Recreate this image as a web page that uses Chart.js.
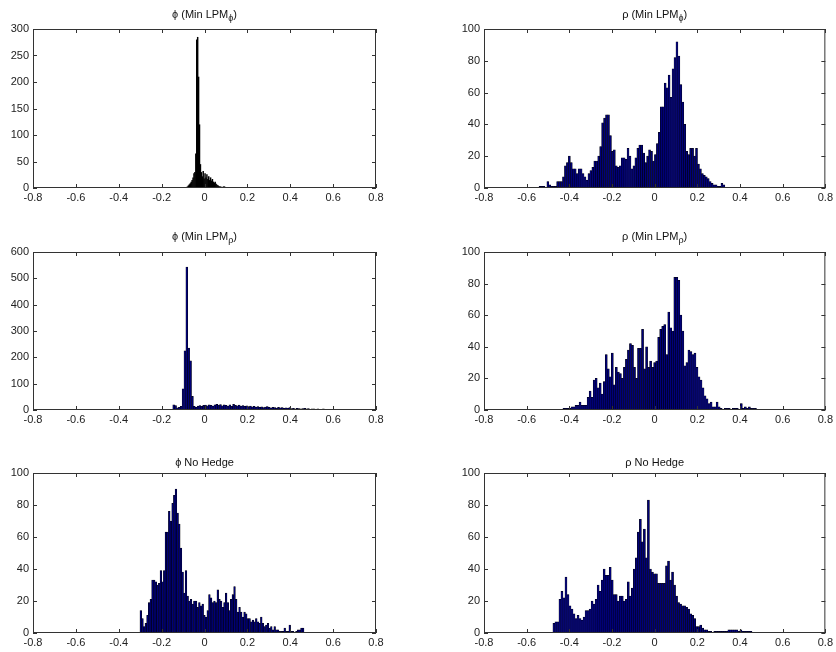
<!DOCTYPE html>
<html>
<head>
<meta charset="utf-8">
<script src="https://cdn.jsdelivr.net/npm/chart.js@4.4.1/dist/chart.umd.min.js"></script>
<style>
  html, body { margin: 0; padding: 0; background: #fff; overflow: hidden; }
  .panel { position: absolute; }
</style>
</head>
<body>
<div class="panel" style="left:0px;top:0px"><canvas id="c1" width="388" height="207"></canvas></div>
<div class="panel" style="left:451px;top:0px"><canvas id="c2" width="385" height="207"></canvas></div>
<div class="panel" style="left:0px;top:223px"><canvas id="c3" width="388" height="206"></canvas></div>
<div class="panel" style="left:451px;top:223px"><canvas id="c4" width="385" height="206"></canvas></div>
<div class="panel" style="left:0px;top:444px"><canvas id="c5" width="388" height="208"></canvas></div>
<div class="panel" style="left:451px;top:444px"><canvas id="c6" width="385" height="208"></canvas></div>
<script>
// Histogram counts, one array per panel.
// Each panel's bins split its range [first edge, last edge] evenly.
var phiLpmPhiRange = [-0.09, 0.121];
var phiLpmPhiCounts = [1, 2, 3, 5, 7, 9, 12, 15, 20, 28, 30, 65,
    280, 285, 210, 120, 45,
    30, 22, 32, 18, 28, 20, 26, 17, 22, 15, 20, 14, 17, 12, 10, 12, 8, 6, 5, 4,
    3, 3, 2, 2, 3, 3, 2, 1, 1, 1, 0, 1];

var rhoLpmPhiRange = [-0.542, 0.329];
var rhoLpmPhiCounts = [1, 1, 1, 0, 4, 2, 1, 1, 1, 4, 4, 4,
    7, 14, 16, 20, 16, 12, 12, 9, 12, 12, 9, 7, 5, 9, 11, 13, 17, 17, 20, 26,
    41, 44, 46, 46, 33, 23, 24, 14, 13, 14, 19, 19, 18, 25, 20, 12, 14, 19,
    25, 27, 27, 22, 16, 20, 24, 23, 17, 21, 28, 35, 51, 51, 66, 63, 71, 57,
    75, 82, 92, 83, 65, 54, 40, 23, 21, 25, 25, 20, 25, 15, 12, 9, 8, 7, 6,
    4, 3, 2, 2, 1, 1, 3, 2];

var phiLpmRhoRange = [-0.148, 0.725];
var phiLpmRhoCounts = [20, 17, 8, 10, 14, 80, 225, 543, 235, 187, 52, 14, 10,
    15, 17, 14, 18,
    19, 16, 20, 18, 15, 20, 22, 19, 21, 16, 20, 18,
    15, 20, 14, 22, 18, 16, 19, 15, 17, 14, 16,
    13, 15, 12, 14, 11, 13, 10, 12, 9, 11, 13, 10,
    8, 10, 9, 7, 10, 8, 9, 6, 8, 7, 9,
    5, 6, 4, 6, 5, 4, 5, 6, 4, 5, 3, 4,
    4, 3, 4, 2, 3, 4, 3, 2, 3, 2, 3,
    2, 1, 2, 0, 1, 2, 2, 0, 1, 2, 1, 0, 1, 2];

var rhoLpmRhoRange = [-0.43, 0.477];
var rhoLpmRhoCounts = [1, 1, 1, 1, 2, 2, 3, 3, 5, 3, 3, 3,
    8, 12, 8, 19, 20, 14, 17, 10, 18, 35, 26, 21, 36, 16, 27, 24, 23, 20, 27, 32,
    38, 42, 41, 27, 20, 39, 39, 51, 26, 40, 27, 31, 27, 30, 31, 46, 51, 53, 54, 35,
    62, 52, 50, 84, 84, 82, 60, 50, 28, 30, 38, 37, 35, 36, 27, 21, 19, 14, 9, 7,
    4, 5, 2, 2, 5, 2, 1,
    0, 1, 1, 1, 0, 1, 1, 1, 0, 4, 1, 2, 1, 2, 1, 1, 1];

var phiNoHedgeRange = [-0.301, 0.464];
var phiNoHedgeCounts = [14, 9, 4, 6, 11, 19, 21, 33, 33, 32,
    30, 31, 39, 32, 39, 63, 63, 76, 70, 81,
    86, 90, 75, 68, 53, 38, 25, 39, 23, 20,
    21, 18, 20, 20, 16, 19, 17, 18, 11, 10,
    14, 24, 22, 19, 20, 19, 27, 21, 20, 16,
    19, 25, 19, 14, 21, 24, 29, 21, 13, 16,
    13, 10, 13, 12, 9, 9, 7, 8, 7, 9,
    7, 6, 10, 6, 4, 5, 6, 3, 4, 2,
    4, 2, 2, 1, 1, 1, 3, 1, 1, 5,
    1, 1, 0, 1, 2, 2, 3, 3];

var rhoNoHedgeRange = [-0.477, 0.456];
var rhoNoHedgeCounts = [6, 7, 7, 21, 26, 22, 35, 24, 17, 15,
    12, 9, 11, 9, 8, 10, 14, 14, 15, 20,
    18, 21, 30, 26, 33, 40, 36, 36, 41, 33,
    24, 24, 20, 23, 23, 20, 21, 32, 23, 28,
    40, 47, 63, 71, 57, 65, 47, 83, 40, 38,
    37, 37, 31, 31, 31, 31, 42, 45, 33, 38,
    30, 23, 19, 18, 17, 17, 16, 15, 12, 11,
    9, 4, 4, 5, 3, 2, 2, 1, 1, 0,
    1, 1, 1, 1, 1, 1, 1, 2, 2, 2,
    2, 2, 1, 2, 1, 1, 1, 1, 1];

var xTicks = [-0.8, -0.6, -0.4, -0.2, 0, 0.2, 0.4, 0.6, 0.8];

var FONT = "'Liberation Sans', Arial, Helvetica, sans-serif";
Chart.defaults.font.family = FONT;
Chart.defaults.font.size = 11;
Chart.defaults.color = '#222';

// MATLAB-like box with inward ticks on all four sides
var matlabAxes = {
    id: 'matlabAxes',
    afterDatasetsDraw: function(chart) {
        var ctx = chart.ctx, a = chart.chartArea;
        var xs = chart.scales.x, ys = chart.scales.y;
        ctx.save();
        ctx.strokeStyle = '#333';
        ctx.lineWidth = 1;
        ctx.beginPath();
        xs.ticks.forEach(function(t) {
            var px = Math.round(xs.getPixelForValue(t.value)) + 0.5;
            ctx.moveTo(px, a.bottom); ctx.lineTo(px, a.bottom - 4);
            ctx.moveTo(px, a.top); ctx.lineTo(px, a.top + 4);
        });
        ys.ticks.forEach(function(t) {
            var py = Math.round(ys.getPixelForValue(t.value)) + 0.5;
            ctx.moveTo(a.left, py); ctx.lineTo(a.left + 4, py);
            ctx.moveTo(a.right, py); ctx.lineTo(a.right - 4, py);
        });
        ctx.stroke();
        ctx.strokeRect(a.left + 0.5, a.top + 0.5, a.right - a.left - 1, a.bottom - a.top - 1);
        ctx.restore();
    }
};

// Title with a TeX-like subscript: parts are [text, isSubscript]
var subTitle = {
    id: 'subTitle',
    afterDraw: function(chart, args, opts) {
        var ctx = chart.ctx, a = chart.chartArea;
        var mainFont = '11px ' + FONT, subFont = '9px ' + FONT;
        ctx.save();
        ctx.fillStyle = '#111';
        ctx.textBaseline = 'middle';
        ctx.textAlign = 'left';
        var total = 0;
        opts.parts.forEach(function(p) {
            ctx.font = p[1] ? subFont : mainFont;
            total += ctx.measureText(p[0]).width;
        });
        var x = (a.left + a.right) / 2 - total / 2;
        opts.parts.forEach(function(p) {
            ctx.font = p[1] ? subFont : mainFont;
            ctx.fillText(p[0], x, opts.y + (p[1] ? 4 : 0));
            x += ctx.measureText(p[0]).width;
        });
        ctx.restore();
    }
};

function histPoints(range, counts) {
    var w = (range[1] - range[0]) / counts.length;
    return counts.map(function(c, i) {
        return { x: range[0] + (i + 0.5) * w, y: c };
    });
}

function makeHist(id, titleParts, titleY, range, counts, yMax, yStep, rightPad, style) {
    new Chart(document.getElementById(id), {
        type: 'bar',
        data: {
            datasets: [{
                data: histPoints(range, counts),
                backgroundColor: style.fill,
                borderColor: '#000',
                borderWidth: style.edge,
                barPercentage: style.bar,
                categoryPercentage: 1
            }]
        },
        options: {
            responsive: false,
            animation: false,
            layout: { padding: { left: 0, right: rightPad, top: 29, bottom: 0 } },
            plugins: {
                legend: { display: false },
                tooltip: { enabled: false },
                title: { display: false },
                subTitle: { parts: titleParts, y: titleY }
            },
            scales: {
                x: {
                    type: 'linear',
                    min: -0.8,
                    max: 0.8,
                    offset: false,
                    afterBuildTicks: function(s) {
                        s.ticks = xTicks.map(function(v) { return { value: v }; });
                    },
                    ticks: {
                        padding: 3,
                        maxRotation: 0,
                        autoSkip: false,
                        callback: function(v) { return String(Math.round(v * 10) / 10); }
                    },
                    grid: { display: false, drawTicks: false },
                    border: { display: false },
                    afterFit: function(s) { s.height = 19; }
                },
                y: {
                    min: 0,
                    max: yMax,
                    ticks: { stepSize: yStep, padding: 4 },
                    grid: { display: false, drawTicks: false },
                    border: { display: false },
                    afterFit: function(s) { s.width = 33; }
                }
            }
        },
        plugins: [matlabAxes, subTitle]
    });
}

var dense = { fill: '#000', edge: 0, bar: 1.6 };
var navy = { fill: '#000078', edge: 0.5, bar: 1 };

makeHist('c1', [['ϕ (Min LPM', false], ['ϕ', true], [')', false]], 14.5,
    phiLpmPhiRange, phiLpmPhiCounts, 300, 50, 12, dense);
makeHist('c2', [['ρ (Min LPM', false], ['ϕ', true], [')', false]], 14.5,
    rhoLpmPhiRange, rhoLpmPhiCounts, 100, 20, 9, navy);
makeHist('c3', [['ϕ (Min LPM', false], ['ρ', true], [')', false]], 14,
    phiLpmRhoRange, phiLpmRhoCounts, 600, 100, 12, navy);
makeHist('c4', [['ρ (Min LPM', false], ['ρ', true], [')', false]], 14,
    rhoLpmRhoRange, rhoLpmRhoCounts, 100, 20, 9, navy);
makeHist('c5', [['ϕ No Hedge', false]], 18.5,
    phiNoHedgeRange, phiNoHedgeCounts, 100, 20, 12, navy);
makeHist('c6', [['ρ No Hedge', false]], 18.5,
    rhoNoHedgeRange, rhoNoHedgeCounts, 100, 20, 9, navy);
</script>
</body>
</html>
